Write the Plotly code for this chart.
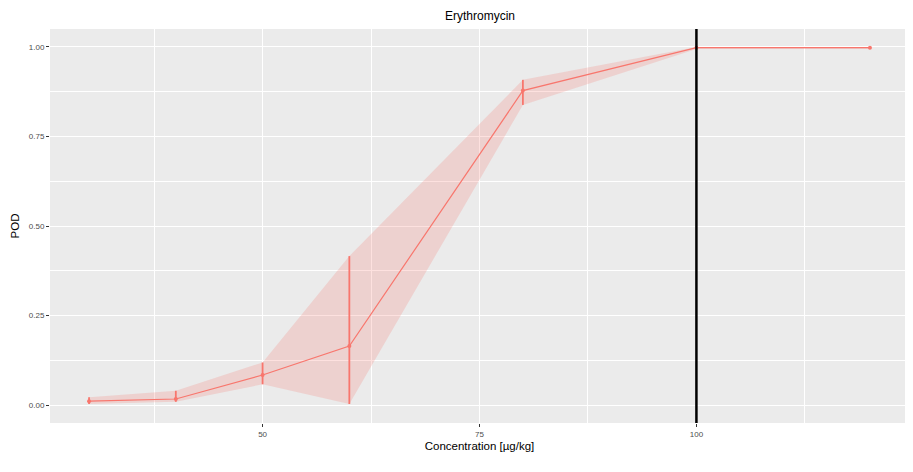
import plotly.graph_objects as go

concentration = [30, 40, 50, 60, 80, 100, 120]
pod = [0.011, 0.017, 0.084, 0.165, 0.878, 0.998, 0.998]
pod_lower = [0.003, 0.009, 0.058, 0.003, 0.838, 0.994, 0.994]
pod_upper = [0.022, 0.040, 0.119, 0.416, 0.908, 1.000, 1.000]
threshold = 100

red = "#F8766D"

fig = go.Figure()
# ribbon
fig.add_trace(go.Scatter(x=concentration, y=pod_upper, mode="lines",
                         line=dict(width=0), showlegend=False, hoverinfo="skip"))
fig.add_trace(go.Scatter(x=concentration, y=pod_lower, mode="lines",
                         line=dict(width=0), fill="tonexty",
                         fillcolor="rgba(248,118,109,0.22)", showlegend=False,
                         hoverinfo="skip"))
# line + points + error bars
fig.add_trace(go.Scatter(
    x=concentration, y=pod, mode="lines+markers",
    line=dict(color=red, width=1.2),
    marker=dict(color=red, size=4),
    error_y=dict(type="data", symmetric=False,
                 array=[u - p for u, p in zip(pod_upper, pod)],
                 arrayminus=[p - l for l, p in zip(pod_lower, pod)],
                 color=red, thickness=1.8, width=0),
    showlegend=False))

fig.add_vline(x=threshold, line=dict(color="black", width=2.5))

font = "Liberation Sans, Arial, sans-serif"
fig.update_layout(
    width=905, height=464,
    margin=dict(l=42, r=4, t=21, b=49, autoexpand=False),
    paper_bgcolor="white", plot_bgcolor="#EBEBEB",
    title=dict(text="Erythromycin", x=(42 + 430) / 905, xanchor="center",
               y=1 - 8 / 464, yanchor="middle",
               font=dict(family=font, size=12, color="black")),
    font=dict(family=font),
    showlegend=False,
)
fig.update_xaxes(
    range=[25.5, 124.5], tick0=0, dtick=25, automargin=False,
    showgrid=True, gridcolor="white", gridwidth=1.1, zeroline=False,
    minor=dict(dtick=12.5, tick0=0, showgrid=True, gridcolor="white", gridwidth=0.5),
    ticks="outside", ticklen=3, tickcolor="#333333", tickwidth=1,
    tickfont=dict(size=8, color="#4D4D4D", family=font),
    title=dict(text="Concentration [µg/kg]", standoff=4,
               font=dict(size=11.5, color="black", family=font)),
    showline=False,
)
fig.update_yaxes(
    range=[-0.05, 1.05], tick0=0, dtick=0.25, tickformat=".2f", automargin=False,
    showgrid=True, gridcolor="white", gridwidth=1.1, zeroline=False,
    minor=dict(dtick=0.125, tick0=0, showgrid=True, gridcolor="white", gridwidth=0.5),
    ticks="outside", ticklen=3, tickcolor="#333333", tickwidth=1,
    tickfont=dict(size=8, color="#4D4D4D", family=font),
    title=dict(text="POD", standoff=6,
               font=dict(size=11.5, color="black", family=font)),
    showline=False,
)

fig.write_html("out.html")
